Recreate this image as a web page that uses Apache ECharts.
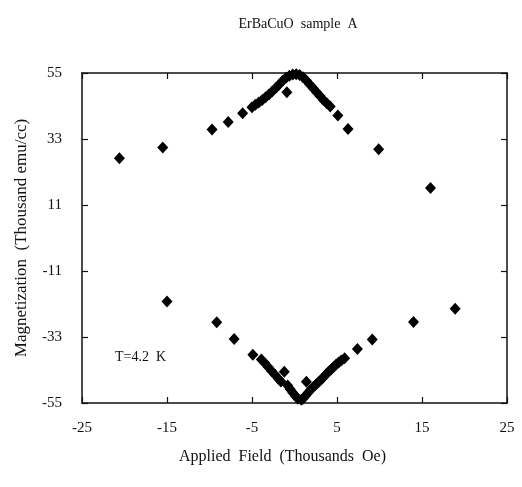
<!DOCTYPE html>
<html>
<head>
<meta charset="utf-8">
<style>html,body{margin:0;padding:0;background:#fff;}#c{width:522px;height:487px;}</style>
<script src="https://cdn.jsdelivr.net/npm/echarts@6/dist/echarts.min.js"></script>
</head>
<body>
<div id="c"></div>
<script>
// Upper branch (Applied field in thousands Oe, magnetization in thousand emu/cc)
var upperX = [-20.6, -15.5, -9.7, -7.8, -6.1,
  -5.0, -4.6, -4.2, -3.8, -3.4, -3.0, -2.6, -2.2, -1.8, -1.4, -1.0, -0.6, -0.2,
  0.2, 0.6, 1.0, 1.4, 1.8, 2.2, 2.6, 3.0, 3.4, 3.8, 4.2,
  -0.9, 5.1, 6.3, 9.9, 16.0];
var upperY = [26.6, 30.2, 36.2, 38.7, 41.6,
  43.6, 44.4, 45.2, 46.0, 46.9, 47.8, 48.9, 50.0, 51.2, 52.4, 53.4, 54.1, 54.5,
  54.6, 54.3, 53.6, 52.5, 51.2, 49.9, 48.6, 47.3, 46.0, 44.9, 43.8,
  48.6, 40.8, 36.3, 29.6, 16.7];
// Lower branch
var lowerX = [-15.0, -9.15, -7.1, -4.9,
  -3.9, -3.5, -3.1, -2.7, -2.3, -1.9, -1.6,
  -1.2,
  -0.8, -0.5, -0.2, 0.1, 0.4, 0.8, 1.0, 1.3, 1.6, 1.9, 2.2, 2.5, 2.8, 3.1, 3.4, 3.7,
  4.0, 4.3, 4.6, 4.9, 5.2, 5.5, 5.9,
  1.4, 7.4, 9.15, 14.0, 18.9];
var lowerY = [-21.2, -28.1, -33.7, -38.9,
  -40.5, -41.7, -43.0, -44.3, -45.6, -46.9, -47.8,
  -44.6,
  -49.2, -50.4, -51.6, -52.7, -53.6, -53.9, -53.6, -52.6, -51.6, -50.6, -49.7, -48.9, -48.1, -47.3, -46.4, -45.5,
  -44.6, -43.8, -43.0, -42.2, -41.5, -40.8, -40.1,
  -47.9, -37.0, -33.8, -28.0, -23.6];
var xTicks = [-25, 25, 10];
var yTicks = [-55, 55, 22];

var serif = "'Liberation Serif','DejaVu Serif',serif";
var ink = '#111';

function zip(xs, ys) { return xs.map(function (x, i) { return [x, ys[i]]; }); }

var chart = echarts.init(document.getElementById('c'), null, {renderer: 'canvas'});
var axisLine = {show: true, onZero: false, lineStyle: {color: ink, width: 1.5}};
var tick = {show: true, inside: true, length: 6, lineStyle: {color: ink, width: 1.2}};
chart.setOption({
  backgroundColor: '#fff',
  animation: false,
  title: {
    text: 'ErBaCuO  sample  A',
    left: 293, top: 12, textAlign: 'center',
    textStyle: {fontFamily: serif, fontSize: 14, fontWeight: 'normal', color: ink}
  },
  grid: {left: 82, top: 73, right: 15, bottom: 84, containLabel: false},
  xAxis: [{
    type: 'value', min: xTicks[0], max: xTicks[1], interval: xTicks[2],
    axisLine: axisLine, axisTick: tick, splitLine: {show: false},
    axisLabel: {fontFamily: serif, fontSize: 15, color: ink, margin: 18},
    name: 'Applied  Field  (Thousands  Oe)', nameLocation: 'middle', nameGap: 46,
    nameTextStyle: {fontFamily: serif, fontSize: 16, color: ink, padding: [0, 24, 0, 0]}
  }, {
    type: 'value', position: 'top', min: xTicks[0], max: xTicks[1], interval: xTicks[2],
    axisLine: axisLine, axisTick: tick, axisLabel: {show: false}, splitLine: {show: false}
  }],
  yAxis: [{
    type: 'value', min: yTicks[0], max: yTicks[1], interval: yTicks[2],
    axisLine: axisLine, axisTick: tick, splitLine: {show: false},
    axisLabel: {fontFamily: serif, fontSize: 15, color: ink, margin: 20},
    name: 'Magnetization  (Thousand emu/cc)', nameLocation: 'middle', nameGap: 52,
    nameTextStyle: {fontFamily: serif, fontSize: 17, color: ink}
  }, {
    type: 'value', position: 'right', min: yTicks[0], max: yTicks[1], interval: yTicks[2],
    axisLine: axisLine, axisTick: tick, axisLabel: {show: false}, splitLine: {show: false}
  }],
  graphic: [{
    type: 'text', left: 115, top: 350,
    style: {text: 'T=4.2  K', font: '14px ' + serif, fill: ink}
  }],
  series: [{
    type: 'scatter', name: 'upper', data: zip(upperX, upperY),
    symbol: 'diamond', symbolSize: [11, 12], clip: false,
    itemStyle: {color: '#000', opacity: 1}
  }, {
    type: 'scatter', name: 'lower', data: zip(lowerX, lowerY),
    symbol: 'diamond', symbolSize: [11, 12], clip: false,
    itemStyle: {color: '#000', opacity: 1}
  }]
});
</script>
</body>
</html>
